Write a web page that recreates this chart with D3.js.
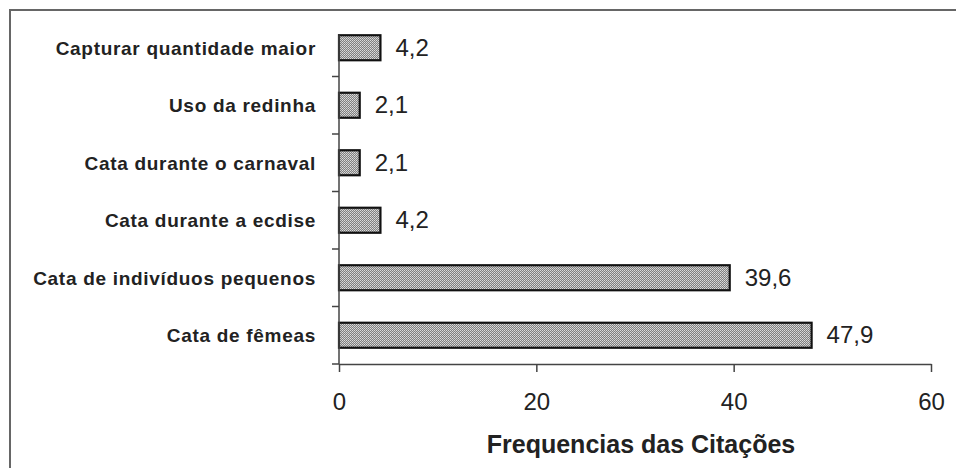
<!DOCTYPE html>
<html>
<head>
<meta charset="utf-8">
<script src="https://cdn.jsdelivr.net/npm/d3@7"></script>
<style>
  body { margin: 0; background: #fff; }
  svg { display: block; font-family: Arial, "Liberation Sans", sans-serif; }
</style>
</head>
<body>
<svg width="956" height="468"></svg>
<script>
const categories = [
  "Capturar quantidade maior",
  "Uso da redinha",
  "Cata durante o carnaval",
  "Cata durante a ecdise",
  "Cata de indivíduos pequenos",
  "Cata de fêmeas"
];
const values = [4.2, 2.1, 2.1, 4.2, 39.6, 47.9];
const xTicks = [0, 20, 40, 60];
const axisTitle = "Frequencias das Citações";

const data = categories.map((c, i) => ({ cat: c, v: values[i] }));

let svg = d3.select("svg");

// outer frame (only left and top visible)
svg.append("rect")
  .attr("x", 10).attr("y", 10)
  .attr("width", 1200).attr("height", 1200)
  .attr("fill", "none")
  .attr("stroke", "#666")
  .attr("stroke-width", 2);

// dotted fill like the original
let defs = svg.append("defs");
let pat = defs.append("pattern")
  .attr("id", "dots")
  .attr("width", 2).attr("height", 2)
  .attr("patternUnits", "userSpaceOnUse");
pat.append("rect").attr("width", 2).attr("height", 2).attr("fill", "#808080");
pat.append("rect").attr("width", 1).attr("height", 1).attr("fill", "#dcdcdc");
pat.append("rect").attr("x", 1).attr("y", 1).attr("width", 1).attr("height", 1).attr("fill", "#c8c8c8");

let x = d3.scaleLinear()
  .domain([0, 60])
  .range([339, 931]);

let y = d3.scaleBand()
  .domain(categories)
  .range([19, 364])
  .paddingInner(0.565)
  .paddingOuter(0.2825);

// bars
svg.append("g")
  .selectAll("rect")
  .data(data)
  .join("rect")
    .attr("x", x(0))
    .attr("y", d => y(d.cat))
    .attr("width", d => x(d.v) - x(0))
    .attr("height", y.bandwidth())
    .attr("fill", "url(#dots)")
    .attr("stroke", "#111")
    .attr("stroke-width", 2.2);

// value labels
svg.append("g")
  .selectAll("text")
  .data(data)
  .join("text")
    .attr("x", d => x(d.v) + 15)
    .attr("y", d => y(d.cat) + y.bandwidth() / 2 + 8)
    .attr("font-size", 24)
    .attr("fill", "#222")
    .text(d => String(d.v).replace(".", ","));

// x axis
let gx = svg.append("g")
  .attr("transform", `translate(0,364)`)
  .call(d3.axisBottom(x).tickValues(xTicks).tickSize(8).tickSizeOuter(0).tickPadding(21));
gx.select(".domain").attr("stroke", "#444").attr("stroke-width", 1.5);
gx.selectAll(".tick line").attr("stroke", "#444").attr("stroke-width", 1.5);
gx.selectAll(".tick text")
  .attr("font-size", 24)
  .attr("font-family", "Arial, 'Liberation Sans', sans-serif")
  .attr("fill", "#222");

// y axis: line plus ticks between categories
let yStep = y.step();
let boundaries = categories.slice(1).map(c => y(c) - y.paddingInner() * yStep / 2);
let gy = svg.append("g");
gy.append("line")
  .attr("x1", x(0)).attr("x2", x(0))
  .attr("y1", y(categories[0]))
  .attr("y2", 364)
  .attr("stroke", "#444")
  .attr("stroke-width", 1.5);
gy.selectAll(".tk")
  .data(boundaries.concat([364]))
  .join("line")
    .attr("class", "tk")
    .attr("x1", x(0) - 7).attr("x2", x(0))
    .attr("y1", d => d).attr("y2", d => d)
    .attr("stroke", "#444")
    .attr("stroke-width", 1.5);

// category labels
svg.append("g")
  .selectAll("text")
  .data(categories)
  .join("text")
    .attr("x", 316)
    .attr("y", d => y(d) + y.bandwidth() / 2 + 7)
    .attr("text-anchor", "end")
    .attr("font-size", 19)
    .attr("font-weight", "bold")
    .attr("letter-spacing", 0.7)
    .attr("fill", "#222")
    .text(d => d);

// axis title
svg.append("text")
  .attr("x", (x(0) + x(60)) / 2 + 6)
  .attr("y", 453)
  .attr("text-anchor", "middle")
  .attr("font-size", 25)
  .attr("font-weight", "bold")
  .attr("fill", "#222")
  .text(axisTitle);
</script>
</body>
</html>
